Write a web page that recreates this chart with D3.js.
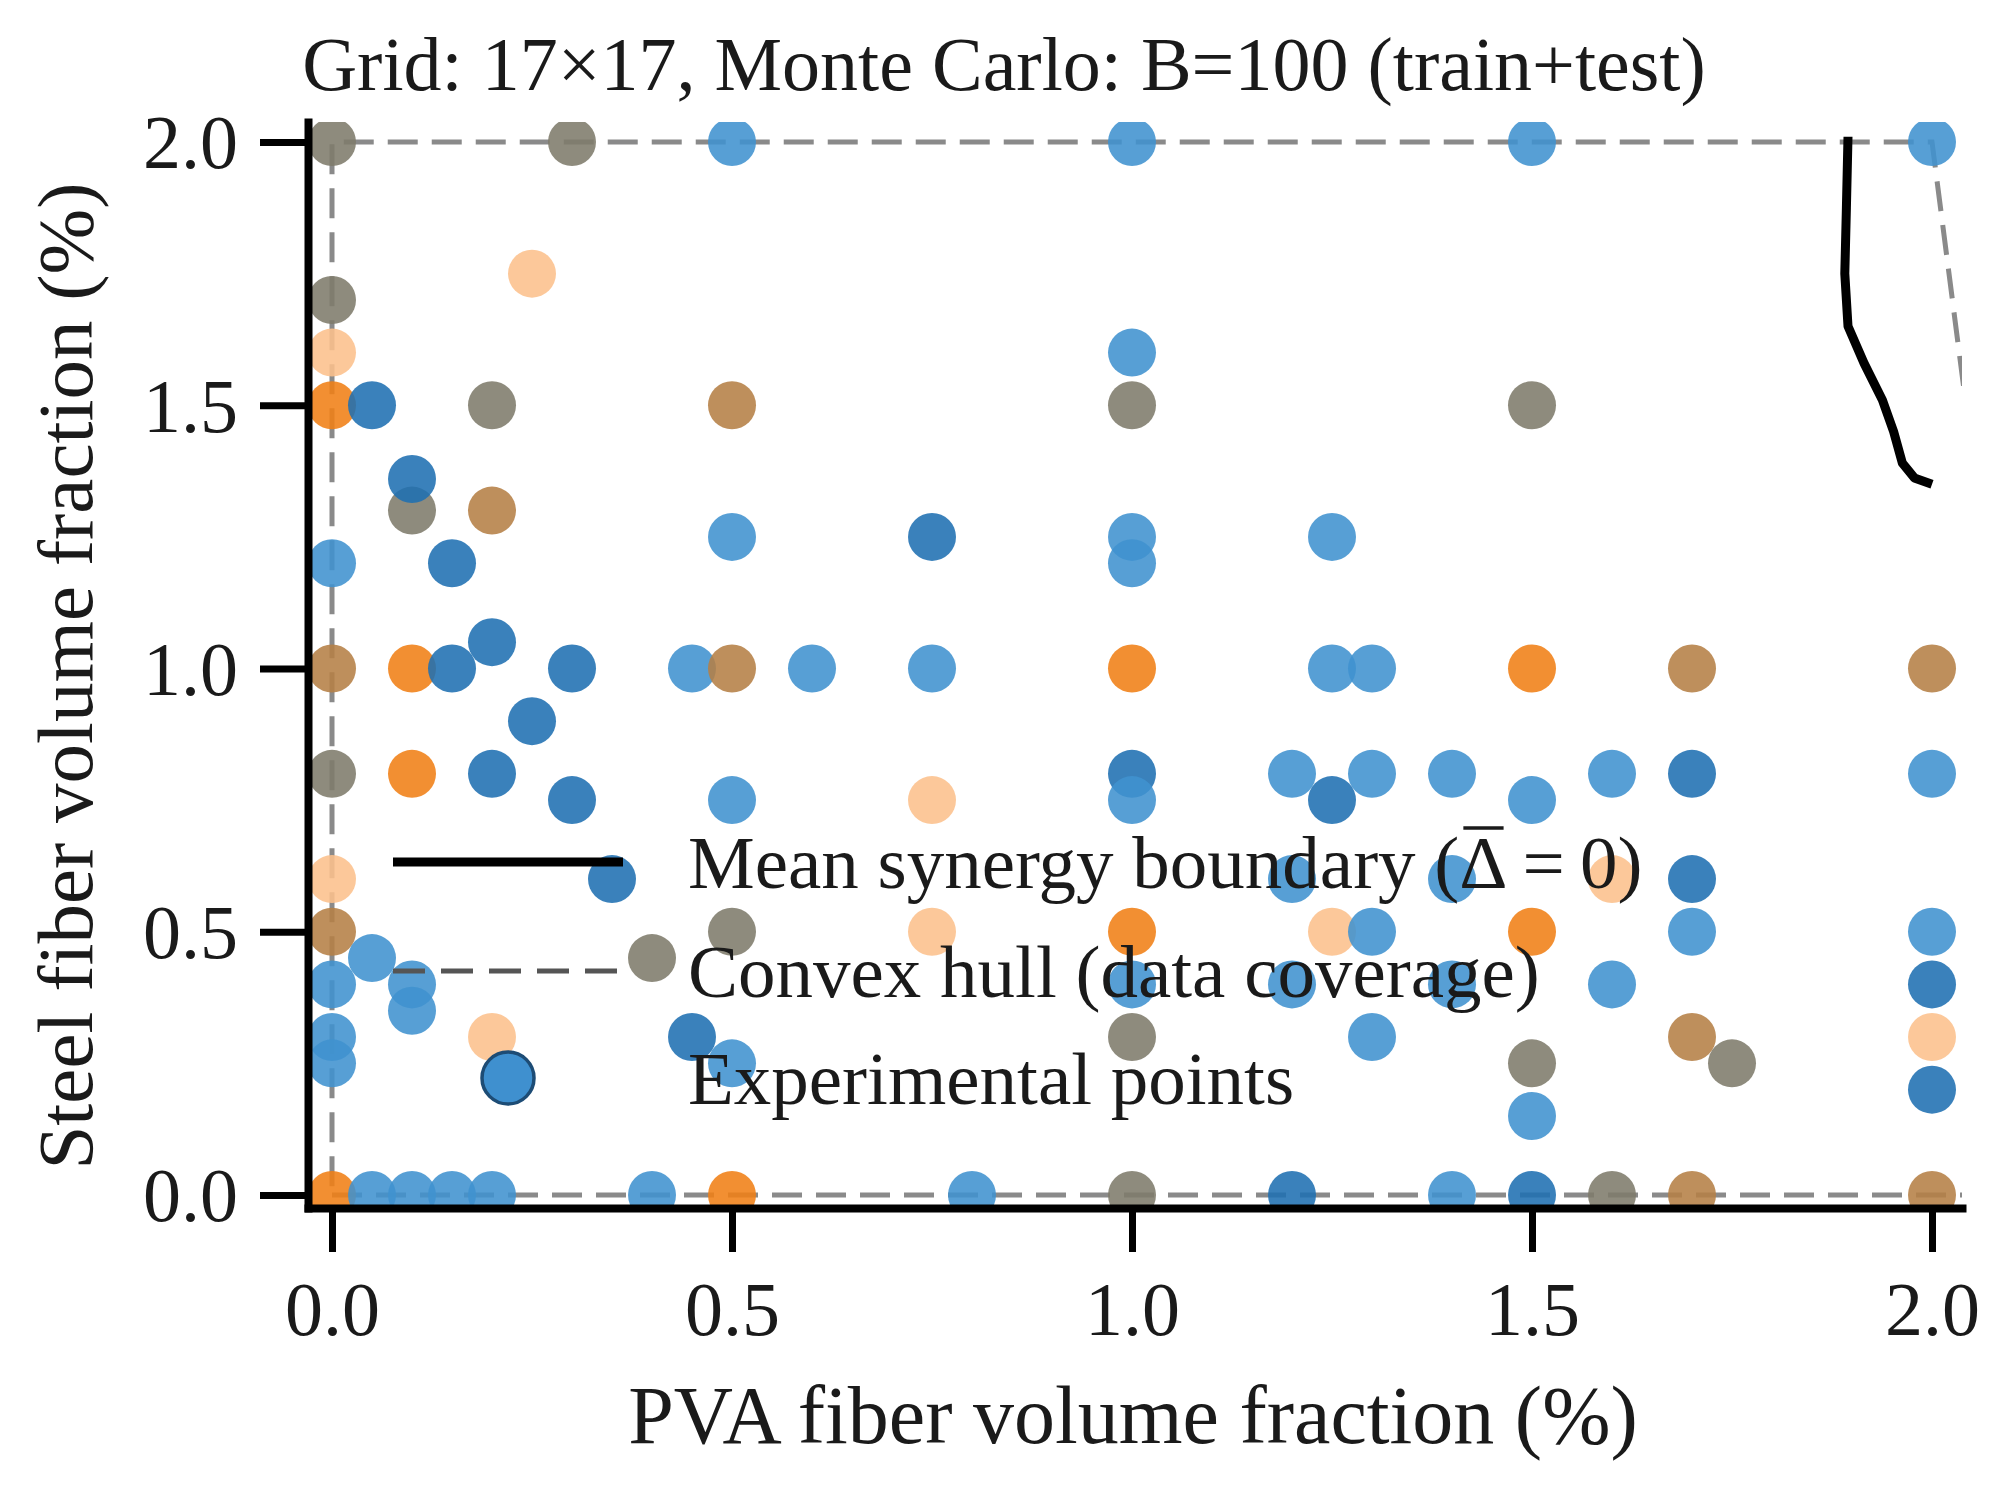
<!DOCTYPE html>
<html>
<head>
<meta charset="utf-8">
<script src="https://cdn.jsdelivr.net/npm/d3@7"></script>
<style>
    body { margin: 0; background: #ffffff; }
    svg { display: block; }
    text { font-family: "Liberation Serif", "DejaVu Serif", serif; fill: #1a1a1a; }
</style>
</head>
<body>
<div class="chart-container"></div>
<script>
// axis ticks
var xTicks = [0.0, 0.5, 1.0, 1.5, 2.0];
var yTicks = [0.0, 0.5, 1.0, 1.5, 2.0];

// experimental points: [PVA %, steel %, colour group]
var expPoints = [
    [0.00, 2.00, 'gray'], [0.30, 2.00, 'gray'], [0.50, 2.00, 'blue'], [1.00, 2.00, 'blue'],
    [1.50, 2.00, 'blue'], [2.00, 2.00, 'blue'],
    [0.25, 1.75, 'orangeLight'], [0.00, 1.70, 'gray'], [0.00, 1.60, 'orangeLight'], [1.00, 1.60, 'blue'],
    [0.00, 1.50, 'orange'], [0.05, 1.50, 'blueDark'], [0.20, 1.50, 'gray'], [0.50, 1.50, 'brown'],
    [1.00, 1.50, 'gray'], [1.50, 1.50, 'gray'],
    [0.10, 1.30, 'gray'], [0.10, 1.36, 'blueDark'], [0.20, 1.30, 'brown'],
    [0.50, 1.25, 'blue'], [0.75, 1.25, 'blueDark'], [1.00, 1.25, 'blue'], [1.25, 1.25, 'blue'],
    [0.00, 1.20, 'blue'], [0.15, 1.20, 'blueDark'], [1.00, 1.20, 'blue'],
    [0.20, 1.05, 'blueDark'],
    [0.00, 1.00, 'brown'], [0.10, 1.00, 'orange'], [0.15, 1.00, 'blueDark'], [0.30, 1.00, 'blueDark'],
    [0.45, 1.00, 'blue'], [0.50, 1.00, 'brown'], [0.60, 1.00, 'blue'], [0.75, 1.00, 'blue'],
    [1.00, 1.00, 'orange'], [1.25, 1.00, 'blue'], [1.30, 1.00, 'blue'], [1.50, 1.00, 'orange'],
    [1.70, 1.00, 'brown'], [2.00, 1.00, 'brown'],
    [0.25, 0.90, 'blueDark'],
    [0.00, 0.80, 'gray'], [0.10, 0.80, 'orange'], [0.20, 0.80, 'blueDark'], [1.00, 0.80, 'blueDark'],
    [1.20, 0.80, 'blue'], [1.30, 0.80, 'blue'], [1.40, 0.80, 'blue'], [1.60, 0.80, 'blue'],
    [1.70, 0.80, 'blueDark'], [2.00, 0.80, 'blue'],
    [0.30, 0.75, 'blueDark'], [0.50, 0.75, 'blue'], [0.75, 0.75, 'orangeLight'], [1.00, 0.75, 'blue'],
    [1.25, 0.75, 'blueDark'], [1.50, 0.75, 'blue'],
    [0.00, 0.60, 'orangeLight'], [0.35, 0.60, 'blueDark'], [1.20, 0.60, 'blue'], [1.40, 0.60, 'blue'],
    [1.60, 0.60, 'orangeLight'], [1.70, 0.60, 'blueDark'],
    [0.00, 0.50, 'brown'], [0.50, 0.50, 'gray'], [0.75, 0.50, 'orangeLight'], [1.00, 0.50, 'orange'],
    [1.25, 0.50, 'orangeLight'], [1.30, 0.50, 'blue'], [1.50, 0.50, 'orange'], [1.70, 0.50, 'blue'],
    [2.00, 0.50, 'blue'],
    [0.05, 0.45, 'blue'], [0.40, 0.45, 'gray'],
    [0.00, 0.40, 'blue'], [0.10, 0.40, 'blue'], [1.00, 0.40, 'blue'], [1.20, 0.40, 'blue'],
    [1.40, 0.40, 'blue'], [1.60, 0.40, 'blue'], [2.00, 0.40, 'blueDark'],
    [0.10, 0.35, 'blue'],
    [0.00, 0.30, 'blue'], [0.20, 0.30, 'orangeLight'], [0.45, 0.30, 'blueDark'], [1.00, 0.30, 'gray'],
    [1.30, 0.30, 'blue'], [1.70, 0.30, 'brown'], [2.00, 0.30, 'orangeLight'],
    [0.00, 0.25, 'blue'], [0.50, 0.25, 'blue'], [1.50, 0.25, 'gray'], [1.75, 0.25, 'gray'],
    [2.00, 0.20, 'blueDark'], [1.50, 0.15, 'blue'],
    [0.00, 0.00, 'orange'], [0.05, 0.00, 'blue'], [0.10, 0.00, 'blue'], [0.15, 0.00, 'blue'],
    [0.20, 0.00, 'blue'], [0.40, 0.00, 'blue'], [0.50, 0.00, 'orange'], [0.80, 0.00, 'blue'],
    [1.00, 0.00, 'gray'], [1.20, 0.00, 'blueDark'], [1.40, 0.00, 'blue'], [1.50, 0.00, 'blueDark'],
    [1.60, 0.00, 'gray'], [1.70, 0.00, 'brown'], [2.00, 0.00, 'brown']
];

// mean synergy boundary (delta = 0)
var boundaryPva   = [1.895, 1.893, 1.891, 1.895, 1.915, 1.938, 1.952, 1.963, 1.978, 2.000];
var boundarySteel = [2.010, 1.875, 1.750, 1.650, 1.580, 1.510, 1.450, 1.390, 1.362, 1.350];

// convex hull of the data
var hullPva   = [0.0, 2.17, 2.0, 0.0];
var hullSteel = [0.0, 0.0, 2.0, 2.0];

var groupNames  = ['blue', 'blueDark', 'orange', 'orangeLight', 'gray', 'brown'];
var groupColors = ['#4092cf', '#1f6fb2', '#f07f16', '#fcc08c', '#7e7b6b', '#b57f45'];

var legendLabels = ['Mean synergy boundary (', 'Convex hull (data coverage)', 'Experimental points'];

var W = 2011, H = 1495;
var margin = {left: 308, right: W - 1962, top: 122, bottom: H - 1208};

var svg = d3.select('.chart-container').append('svg')
    .attr('width', W).attr('height', H);

var x = d3.scaleLinear().domain([-0.03, 2.0375]).range([margin.left, W - margin.right]);
var y = d3.scaleLinear().domain([-0.0247, 2.038]).range([H - margin.bottom, margin.top]);
var color = d3.scaleOrdinal().domain(groupNames).range(groupColors);

svg.append('clipPath').attr('id', 'plot-clip')
    .append('rect')
    .attr('x', margin.left).attr('y', margin.top)
    .attr('width', W - margin.left - margin.right)
    .attr('height', H - margin.top - margin.bottom);

var plot = svg.append('g').attr('clip-path', 'url(#plot-clip)');

// convex hull
var hullPts = hullPva.map(function(v, i) { return [v, hullSteel[i]]; });
plot.append('path')
    .datum(hullPts)
    .attr('d', d3.line().x(function(d) { return x(d[0]); }).y(function(d) { return y(d[1]); }).curve(d3.curveLinearClosed))
    .style('fill', 'none')
    .style('stroke', '#8a8a8a')
    .style('stroke-width', '5px')
    .style('stroke-dasharray', '30,14');

// mean boundary
var boundPts = boundaryPva.map(function(v, i) { return [v, boundarySteel[i]]; });
plot.append('path')
    .datum(boundPts)
    .attr('d', d3.line().x(function(d) { return x(d[0]); }).y(function(d) { return y(d[1]); }))
    .style('fill', 'none')
    .style('stroke', '#000000')
    .style('stroke-width', '9px')
    .style('stroke-linejoin', 'round');

// legend (drawn under the points, as in the source)
var legend = svg.append('g').attr('class', 'legend');
var legY = [862, 971, 1078];
var handleX0 = 393, handleX1 = 623, textX = 688;

legend.append('line')
    .attr('x1', handleX0).attr('x2', handleX1).attr('y1', legY[0]).attr('y2', legY[0])
    .style('stroke', '#000').style('stroke-width', '9px');
legend.append('line')
    .attr('x1', handleX0).attr('x2', handleX1).attr('y1', legY[1]).attr('y2', legY[1])
    .style('stroke', '#555').style('stroke-width', '5px').style('stroke-dasharray', '32,16');
legend.append('circle')
    .attr('cx', (handleX0 + handleX1) / 2).attr('cy', legY[2]).attr('r', 26)
    .style('fill', '#3f90cf').style('stroke', '#1d4c75').style('stroke-width', '3.5px');

legend.selectAll('text.leg-label').data(legendLabels).enter()
    .append('text')
    .classed('leg-label', true)
    .attr('x', textX)
    .attr('y', function(d, i) { return legY[i] + 26; })
    .style('font-size', '75px')
    .each(function(d, i) {
        var t = d3.select(this);
        t.append('tspan').text(d);
        if (i === 0) {
            t.append('tspan').text('\u0394');
            t.append('tspan').text('\u2009=\u20090)');
            // bar over delta
            var node = this;
            var p0 = node.getStartPositionOfChar(d.length);
            var p1 = node.getEndPositionOfChar(d.length);
            legend.append('line')
                .attr('x1', p0.x + 4).attr('x2', p1.x - 4)
                .attr('y1', legY[0] + 26 - 60).attr('y2', legY[0] + 26 - 60)
                .style('stroke', '#1a1a1a').style('stroke-width', '3.5px');
        }
    });

// points
plot.selectAll('circle.exp-point').data(expPoints).enter()
    .append('circle')
    .classed('exp-point', true)
    .attr('cx', function(d) { return x(d[0]); })
    .attr('cy', function(d) { return y(d[1]); })
    .attr('r', 24)
    .style('fill', function(d) { return color(d[2]); })
    .style('fill-opacity', 0.88);

// axes
var fmt = d3.format('.1f');
var xAxis = svg.append('g')
    .attr('transform', 'translate(0,' + (H - margin.bottom) + ')')
    .call(d3.axisBottom(x).tickValues(xTicks).tickFormat(fmt).tickSize(44).tickSizeOuter(0).tickPadding(24));
var yAxis = svg.append('g')
    .attr('transform', 'translate(' + margin.left + ',0)')
    .call(d3.axisLeft(y).tickValues(yTicks).tickFormat(fmt).tickSize(48).tickSizeOuter(0).tickPadding(22));

[xAxis, yAxis].forEach(function(ax) {
    ax.select('.domain').style('stroke', '#000').style('stroke-width', '8px').style('stroke-linecap', 'square');
    ax.selectAll('.tick line').style('stroke', '#000').style('stroke-width', '7px');
    ax.selectAll('.tick text')
        .style('font-family', '"Liberation Serif", serif')
        .style('font-size', '76px')
        .style('fill', '#1a1a1a');
});
xAxis.selectAll('.tick text').attr('dy', '0.78em');
yAxis.selectAll('.tick text').attr('dy', '0.34em');

// labels
svg.append('text')
    .attr('x', 1133)
    .attr('y', 1443)
    .attr('text-anchor', 'middle')
    .style('font-size', '82px')
    .text('PVA fiber volume fraction (%)');

svg.append('text')
    .attr('transform', 'translate(92,676) rotate(-90)')
    .attr('text-anchor', 'middle')
    .style('font-size', '79px')
    .text('Steel fiber volume fraction (%)');

svg.append('text')
    .attr('x', 1004)
    .attr('y', 90)
    .attr('text-anchor', 'middle')
    .style('font-size', '76px')
    .text('Grid: 17\u00d717, Monte Carlo: B=100 (train+test)');
</script>
</body>
</html>
